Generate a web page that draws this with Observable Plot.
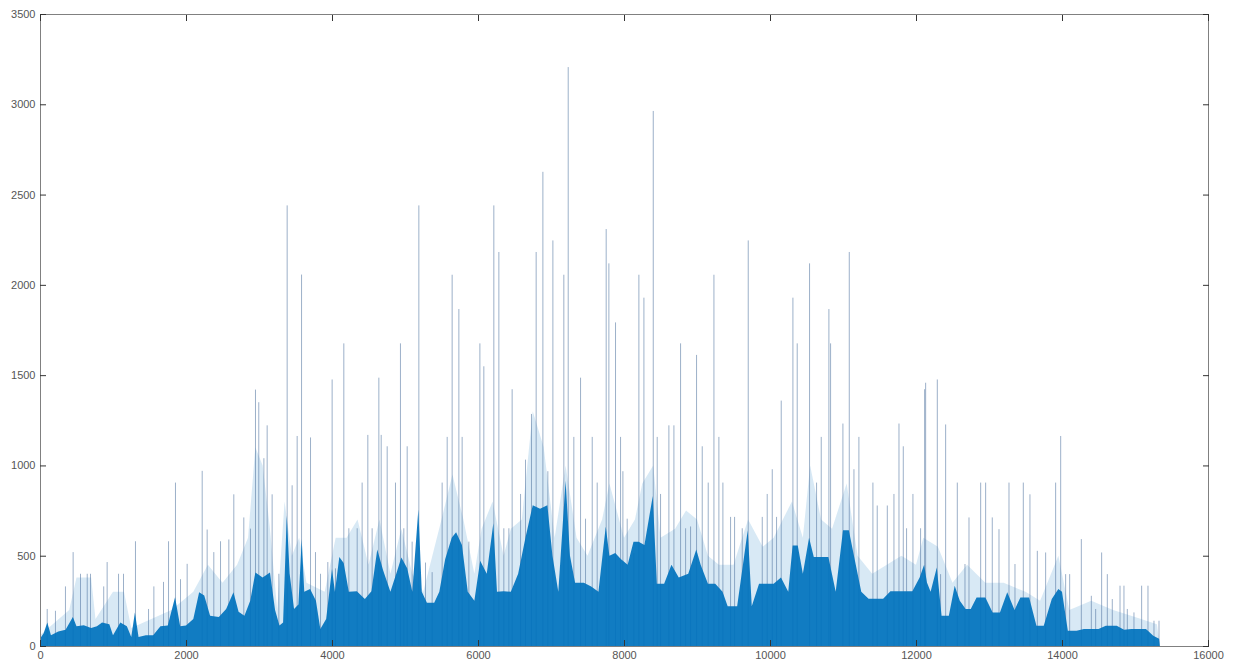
<!DOCTYPE html>
<html><head><meta charset="utf-8">
<script src="https://cdn.jsdelivr.net/npm/d3@7"></script>
<script src="https://cdn.jsdelivr.net/npm/@observablehq/plot@0.6"></script>
<style>body{margin:0;background:#fff}#chart{width:1240px;height:668px}</style>
</head><body><div id="chart"></div>
<script>
// Tick values
const xTicks = [0,2000,4000,6000,8000,10000,12000,14000,16000];
const yTicks = [0,500,1000,1500,2000,2500,3000,3500];

// Tall individual spikes (sample index, value)
const spikeX = [92,205,342,447,548,640,685,866,913,1069,1137,1301,1480,1553,1685,1754,1849,1918,2009,2215,2283,2374,2466,2580,2648,2785,2876,2945,2990,3060,3105,3173,3265,3379,3447,3516,3576,3699,3767,3836,3936,3995,4041,
4155,4224,4338,4406,4484,4543,4635,4667,4749,4863,4931,4977,5023,5091,5183,5274,5365,5502,5571,5639,5731,5776,5868,6019,6073,6210,6279,6347,6416,6461,6576,6644,6726,6790,6882,6950,7019,7169,7229,7306,7398,7466,7558,7626,7749,7786,7877,7946,7978,8037,8128,
8197,8266,8394,8448,8494,8608,8677,8768,8837,8905,8987,9065,9147,9225,9293,9348,9453,9508,9613,9695,9887,9955,10024,10083,10147,10307,10366,10535,10631,10695,10800,10823,10992,11079,11143,11211,11403,11462,11600,11691,11760,11819,11864,11951,12056,12111,
12125,12285,12330,12399,12559,12664,12719,12879,12947,13038,13130,13267,13349,13463,13554,13655,13769,13906,13975,14043,14098,14258,14395,14454,14536,14614,14682,14788,14842,14888,14979,15084,15171,15253,15322];
const spikeY = [205,195,330,520,400,400,400,330,465,400,400,580,205,330,355,580,905,370,455,970,645,520,580,590,840,712,650,1420,1350,1040,1222,840,400,2440,890,1163,2057,1155,520,400,465,1476,430,
1676,652,652,905,1169,652,1486,1169,1106,905,1676,652,1106,578,2440,462,409,905,1158,2056,1866,1158,578,1676,1549,2440,2182,652,652,1422,842,1032,1285,2182,2626,968,2246,2056,3206,1158,1486,705,1158,905,2309,2119,1792,1158,968,705,515,
2056,1929,2963,1158,842,1222,1222,1676,652,662,1612,1106,905,2056,1158,905,715,715,652,2246,715,842,979,715,1359,1929,1676,2119,905,1158,1866,1676,1232,2182,979,1158,905,778,778,842,1232,1106,652,842,652,1422,
1458,1476,398,1227,905,454,712,905,905,712,647,905,454,905,840,527,518,905,1163,398,398,592,278,205,518,398,260,334,334,205,186,334,334,140,140];

// Dense body of the signal: upper edge of the dark band
const bodyX = [0,50,100,150,250,350,450,500,600,700,780,850,950,1000,1100,1190,1250,1300,1350,1450,1550,1650,1750,1850,1920,2000,2100,2180,2250,2330,2450,2550,2650,2720,2800,2880,2950,3050,3150,3220,3280,3330,3380,3420,3480,3540,3585,3620,3700,3780,3840,3920,4000,4040,
4100,4160,4230,4340,4450,4540,4620,4700,4800,4880,4950,5030,5100,5183,5230,5300,5400,5470,5550,5640,5700,5780,5860,5950,6030,6120,6210,6260,6350,6450,6550,6650,6750,6850,6950,7020,7100,7200,7260,7330,7450,7550,7650,7750,7800,7880,7960,8050,8130,
8200,8280,8394,8450,8550,8650,8750,8880,8990,9050,9150,9250,9350,9420,9550,9695,9750,9850,9950,10050,10150,10250,10310,10380,10450,10535,10600,10700,10800,10900,11000,11080,11150,11250,11350,11450,11550,11650,11750,11850,11950,12050,12111,
12150,12200,12285,12350,12450,12530,12600,12680,12750,12830,12950,13050,13150,13250,13350,13430,13550,13650,13750,13860,13950,14000,14080,14200,14300,14400,14500,14600,14750,14850,14950,15050,15150,15250,15330,15340];
const bodyY = [40,70,130,60,80,90,160,110,115,100,110,130,120,60,130,110,50,186,50,60,60,110,113,270,110,113,150,297,280,168,160,205,297,190,168,250,407,380,407,200,113,130,721,400,205,230,592,300,315,250,94,150,426,300,
493,460,300,303,260,303,535,420,300,400,490,430,300,757,300,240,240,300,480,600,630,560,300,250,472,400,680,300,303,300,400,600,780,760,780,500,300,915,500,350,350,330,300,662,500,515,480,450,578,
578,560,831,345,345,450,380,400,535,450,345,345,300,220,220,641,220,345,345,345,380,300,557,557,400,600,493,493,493,300,641,641,500,300,261,261,261,303,303,303,303,380,450,
352,300,435,168,168,334,250,205,205,269,269,186,186,297,200,269,269,112,112,260,315,300,85,85,94,94,94,112,112,90,94,94,94,57,40,0];

// Lighter, less dense band above the body
const haloX = [0,400,500,700,760,1000,1150,1250,1800,2100,2300,2500,2700,2850,2950,3050,3150,3250,3350,3450,3550,3650,3900,4050,4200,4350,4500,4650,4800,4950,5100,5250,5500,5650,5800,5950,6050,6200,6350,6450,6600,6750,6900,7050,7200,7350,7500,7700,7800,8000,8150,8250,8400,8500,8700,8850,9000,9150,9300,9500,9700,9900,10050,10300,10450,10550,10700,10850,11050,11200,11400,11600,11800,12000,12100,12300,12500,12700,12950,13200,13500,13700,13950,14100,14400,14700,15000,15300,15340];
const haloY = [60,200,380,380,150,300,300,100,200,300,450,350,450,600,1100,1000,650,200,800,500,600,350,300,600,600,700,450,700,400,650,400,300,700,950,700,400,650,800,500,650,700,1300,1100,600,1000,600,500,700,900,600,700,900,1000,600,650,750,700,500,450,450,700,550,600,800,600,1000,700,650,900,500,400,450,500,450,600,550,350,450,350,350,300,250,500,200,250,200,160,120,0];

const zip = (xs, ys) => xs.map((x, i) => ({x, y: ys[i]}));
const spikes = zip(spikeX, spikeY);
const body = zip(bodyX, bodyY);
const halo = zip(haloX, haloY);

const blue = "#0072BD";
const spikeCol = "#4a6f9c";
const axisCol = "#808080";
const fmt = d => String(d);

const chart = Plot.plot({
  width: 1240, height: 668,
  marginLeft: 40, marginRight: 32, marginTop: 14, marginBottom: 22,
  style: {fontFamily: "'Liberation Sans', Arial, sans-serif", fontSize: "11px", color: "#555", background: "#fff"},
  x: {domain: [0, 16000]},
  y: {domain: [0, 3500]},
  marks: [
    Plot.areaY(halo, {x: "x", y: "y", fill: "#3b8fcf", fillOpacity: 0.2}),
    Plot.ruleX(spikes, {x: "x", y1: 0, y2: "y", stroke: spikeCol, strokeOpacity: 0.55, strokeWidth: 1}),
    Plot.areaY(body, {x: "x", y: "y", fill: blue, fillOpacity: 0.92}),
    Plot.frame({stroke: axisCol}),
    Plot.axisX({ticks: xTicks, tickSize: 0, tickPadding: 5, tickFormat: fmt, label: null}),
    Plot.axisX({ticks: xTicks, tickSize: -6, tickFormat: () => "", stroke: "#333", label: null}),
    Plot.axisX({anchor: "top", ticks: xTicks, tickSize: -6, tickFormat: () => "", stroke: "#333", label: null}),
    Plot.axisY({ticks: yTicks, tickSize: 0, tickPadding: 5, tickFormat: fmt, label: null}),
    Plot.axisY({ticks: yTicks, tickSize: -6, tickFormat: () => "", stroke: "#333", label: null}),
    Plot.axisY({anchor: "right", ticks: yTicks, tickSize: -6, tickFormat: () => "", stroke: "#333", label: null})
  ]
});
document.getElementById("chart").appendChild(chart);
</script>
</body></html>
